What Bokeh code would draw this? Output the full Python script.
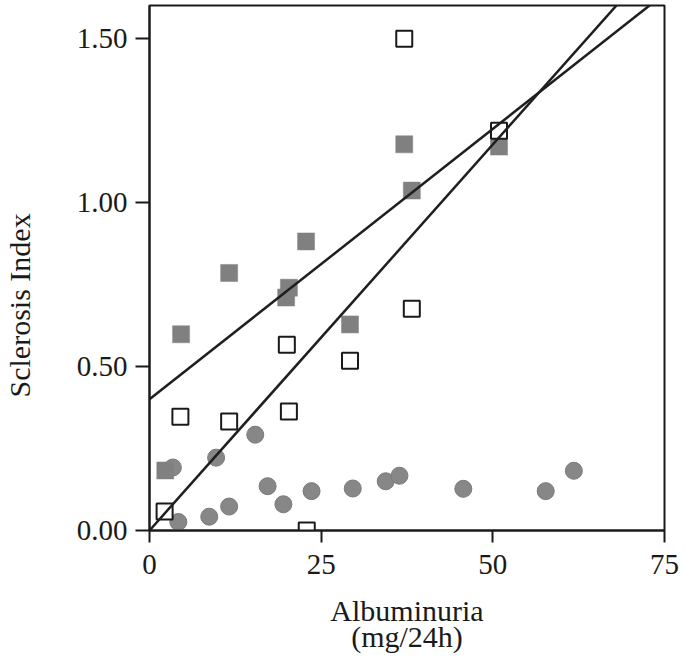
from bokeh.plotting import figure
from bokeh.models import Range1d, FixedTicker, NumeralTickFormatter, Title, LinearAxis
from bokeh.embed import file_html
from bokeh.resources import INLINE

# --- data ---
open_x = [2.2, 4.5, 11.6, 20.0, 20.3, 22.9, 29.2, 37.1, 38.2, 50.9]
open_y = [0.058, 0.347, 0.332, 0.566, 0.363, 0.0, 0.517, 1.499, 0.676, 1.218]

filled_x = [2.3, 4.6, 11.6, 19.9, 20.3, 22.8, 29.2, 37.1, 38.2, 50.9]
filled_y = [0.183, 0.598, 0.785, 0.71, 0.74, 0.881, 0.628, 1.177, 1.036, 1.170]

circle_x = [3.4, 4.2, 8.7, 9.7, 11.6, 15.4, 17.2, 19.5, 23.6, 29.6, 34.4, 36.4, 45.7, 57.7, 61.8]
circle_y = [0.192, 0.026, 0.042, 0.222, 0.073, 0.292, 0.135, 0.080, 0.120, 0.128, 0.150, 0.167, 0.127, 0.120, 0.182]

# regression lines (filled squares, open squares)
line_intercepts = [0.40, 0.0]
line_slopes = [0.01648, 0.02353]

x_ticks = [0, 25, 50, 75]
y_ticks = [0.0, 0.5, 1.0, 1.5]

FONT = "Liberation Serif"

p = figure(width=684, height=658, output_backend="svg", toolbar_location=None,
           x_range=Range1d(0, 75), y_range=Range1d(0, 1.60),
           min_border_left=148, min_border_right=20, min_border_top=5, min_border_bottom=128)
p.background_fill_color = "white"
p.border_fill_color = "white"
p.outline_line_color = "#1a1a1a"
p.outline_line_width = 2
p.xgrid.visible = False
p.ygrid.visible = False

# points
p.scatter(circle_x, circle_y, marker="circle", size=17, fill_color="#878787",
          line_color="#7a7a7a", line_width=1)
p.scatter(filled_x, filled_y, marker="square", size=17, fill_color="#808080",
          line_color="#808080", line_width=0.5)
p.scatter(open_x, open_y, marker="square", size=16, fill_color="white",
          line_color="#1a1a1a", line_width=2)

# regression lines
x_end = [0, 75]
for a, b in zip(line_intercepts, line_slopes):
    p.line(x_end, [a + b * xx for xx in x_end], line_color="#1f1f1f", line_width=2.5)

# axes
for ax in (p.xaxis[0], p.yaxis[0]):
    ax.axis_line_color = "#1a1a1a"
    ax.axis_line_width = 2
    ax.major_tick_line_color = "#1a1a1a"
    ax.major_tick_line_width = 2
    ax.major_tick_in = 0
    ax.minor_tick_line_color = None
    ax.major_label_text_font = FONT
    ax.major_label_text_font_size = "29px"
    ax.major_label_text_color = "#1a1a1a"
    ax.axis_label_text_font = FONT
    ax.axis_label_text_font_size = "30px"
    ax.axis_label_text_font_style = "normal"
    ax.axis_label_text_color = "#1a1a1a"

p.xaxis.ticker = FixedTicker(ticks=x_ticks)
p.yaxis.ticker = FixedTicker(ticks=y_ticks)
p.yaxis.formatter = NumeralTickFormatter(format="0.00")
p.xaxis.major_tick_out = 12
p.yaxis.major_tick_out = 14
p.xaxis.major_label_standoff = 12
p.yaxis.major_label_standoff = 8

p.xaxis.axis_label = "Albuminuria\n(mg/24h)"
p.xaxis.axis_label_standoff = 17
p.xaxis.axis_label_text_line_height = 0.8

# blank spacer axis (white on white) that pushes the vertical title outward
spacer = LinearAxis(ticker=FixedTicker(ticks=[0.8]), major_tick_out=38, major_tick_in=0,
                    major_tick_line_color="white", minor_tick_line_color=None,
                    axis_line_color=None, major_label_standoff=0,
                    major_label_overrides={0.8: ""}, major_label_text_font_size="1px",
                    major_label_text_color="white")
p.add_layout(spacer, "left")

ytitle = Title(text="Sclerosis Index", align="left", offset=133, standoff=0,
               text_font=FONT, text_font_size="30px", text_font_style="normal",
               text_color="#1a1a1a")
p.add_layout(ytitle, "left")

open("out.html", "w").write(file_html(p, INLINE))
